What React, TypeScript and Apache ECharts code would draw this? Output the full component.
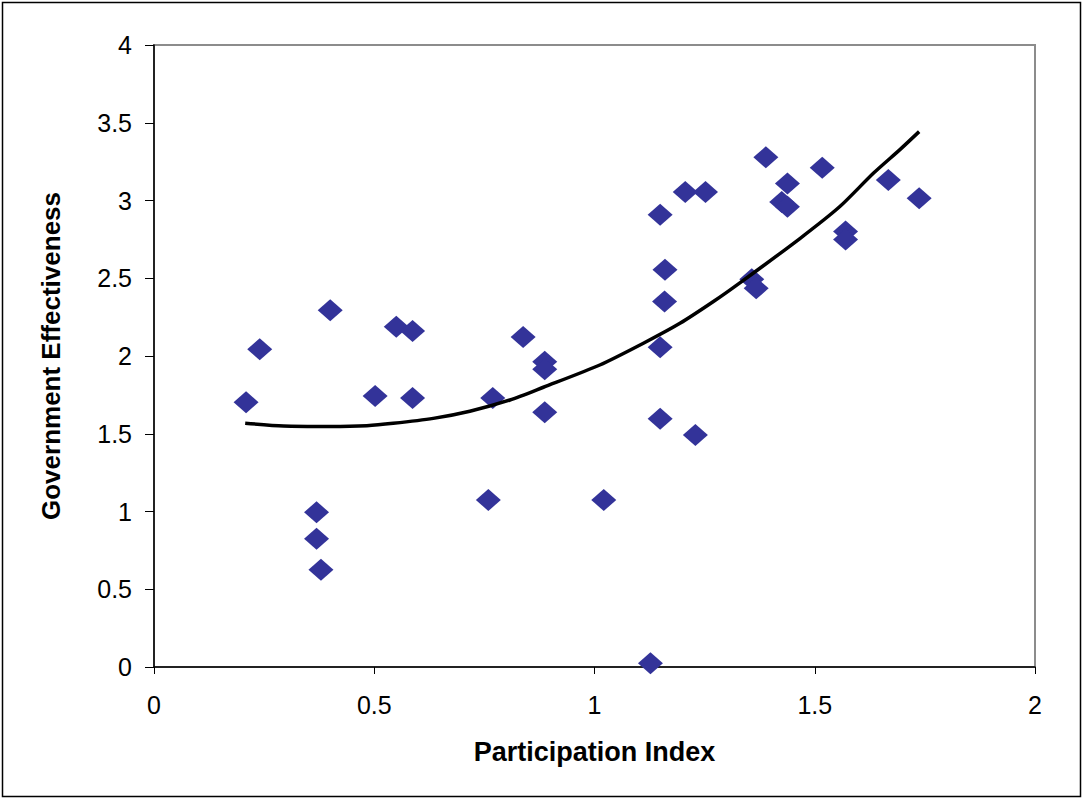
import React, { useEffect, useRef } from "react";
import * as echarts from "echarts";

const participation: number[] = [
  0.209, 0.240, 0.400, 0.550, 0.587, 0.502, 0.587, 0.369, 0.369, 0.379,
  0.838, 0.887, 0.887, 0.769, 0.887, 1.149, 1.159, 1.149, 1.229, 0.759,
  1.021, 1.389, 1.438, 1.425, 1.438, 1.517, 1.667, 1.206, 1.252, 1.149,
  1.160, 1.570, 1.570, 1.357, 1.367, 1.737, 1.127,
];
const effectiveness: number[] = [
  1.702, 2.043, 2.294, 2.188, 2.161, 1.743, 1.730, 0.995, 0.825, 0.626,
  2.122, 1.963, 1.914, 1.730, 1.638, 2.056, 2.350, 1.597, 1.492, 1.074,
  1.074, 3.278, 3.110, 2.990, 2.960, 3.211, 3.132, 3.055, 3.055, 2.909,
  2.555, 2.800, 2.750, 2.493, 2.435, 3.014, 0.024,
];

// Trend line
const trendX: number[] = [
  0.207, 0.294, 0.40, 0.483, 0.543, 0.634, 0.717, 0.808, 0.884, 1.012,
  1.111, 1.194, 1.270, 1.33, 1.467, 1.557, 1.633, 1.694, 1.737,
];
const trendY: number[] = [
  1.568, 1.550, 1.547, 1.552, 1.567, 1.599, 1.645, 1.717, 1.799, 1.942,
  2.082, 2.210, 2.350, 2.470, 2.757, 2.961, 3.175, 3.329, 3.443,
];

const xTicks = { min: 0, max: 2, interval: 0.5 };
const yTicks = { min: 0, max: 4, interval: 0.5 };

const FONT = "'Liberation Sans', Arial, sans-serif";

export default function App() {
  const ref = useRef<HTMLDivElement>(null);

  useEffect(() => {
    if (!ref.current) return;
    const chart = echarts.init(ref.current, null, { renderer: "svg" });
    const scatterData = participation.map((x, i) => [x, effectiveness[i]]);
    const trendData = trendX.map((x, i) => [x, trendY[i]]);

    chart.setOption({
      animation: false,
      backgroundColor: "#ffffff",
      textStyle: { fontFamily: FONT },
      grid: {
        left: 154,
        top: 45,
        right: 47,
        bottom: 131,
        show: true,
        borderColor: "#8c8c8c",
        borderWidth: 2,
        backgroundColor: "transparent",
      },
      xAxis: {
        type: "value",
        min: xTicks.min,
        max: xTicks.max,
        interval: xTicks.interval,
        name: "Participation Index",
        nameLocation: "middle",
        nameGap: 71,
        nameTextStyle: {
          fontFamily: FONT,
          fontSize: 27,
          fontWeight: "bold",
          color: "#000",
        },
        axisLine: { show: true, onZero: false, lineStyle: { color: "#000", width: 1.5 } },
        axisTick: { show: true, length: 7, lineStyle: { color: "#000", width: 1 } },
        axisLabel: { fontFamily: FONT, fontSize: 25, color: "#000", margin: 25 },
        splitLine: { show: false },
      },
      yAxis: {
        type: "value",
        min: yTicks.min,
        max: yTicks.max,
        interval: yTicks.interval,
        name: "Government Effectiveness",
        nameLocation: "middle",
        nameRotate: 90,
        nameGap: 90,
        nameTextStyle: {
          fontFamily: FONT,
          fontSize: 26,
          fontWeight: "bold",
          color: "#000",
        },
        axisLine: { show: true, onZero: false, lineStyle: { color: "#000", width: 1.5 } },
        axisTick: { show: true, length: 9, lineStyle: { color: "#000", width: 1 } },
        axisLabel: { fontFamily: FONT, fontSize: 25, color: "#000", margin: 22 },
        splitLine: { show: false },
      },
      graphic: [
        {
          type: "rect",
          shape: { x: 2.5, y: 2.5, width: 1078, height: 794 },
          style: { fill: "none", stroke: "#000", lineWidth: 1.5 },
          silent: true,
        },
      ],
      series: [
        {
          type: "line",
          data: trendData,
          smooth: 0.25,
          showSymbol: false,
          symbol: "none",
          lineStyle: { color: "#000", width: 3.5 },
          z: 3,
        },
        {
          type: "scatter",
          data: scatterData,
          symbol: "diamond",
          symbolSize: [25, 22],
          itemStyle: { color: "#333399", opacity: 1 },
          z: 2,
        },
      ],
    });

    return () => chart.dispose();
  }, []);

  return (
    <div
      ref={ref}
      style={{ position: "absolute", left: 0, top: 0, width: 1082, height: 798 }}
    />
  );
}
